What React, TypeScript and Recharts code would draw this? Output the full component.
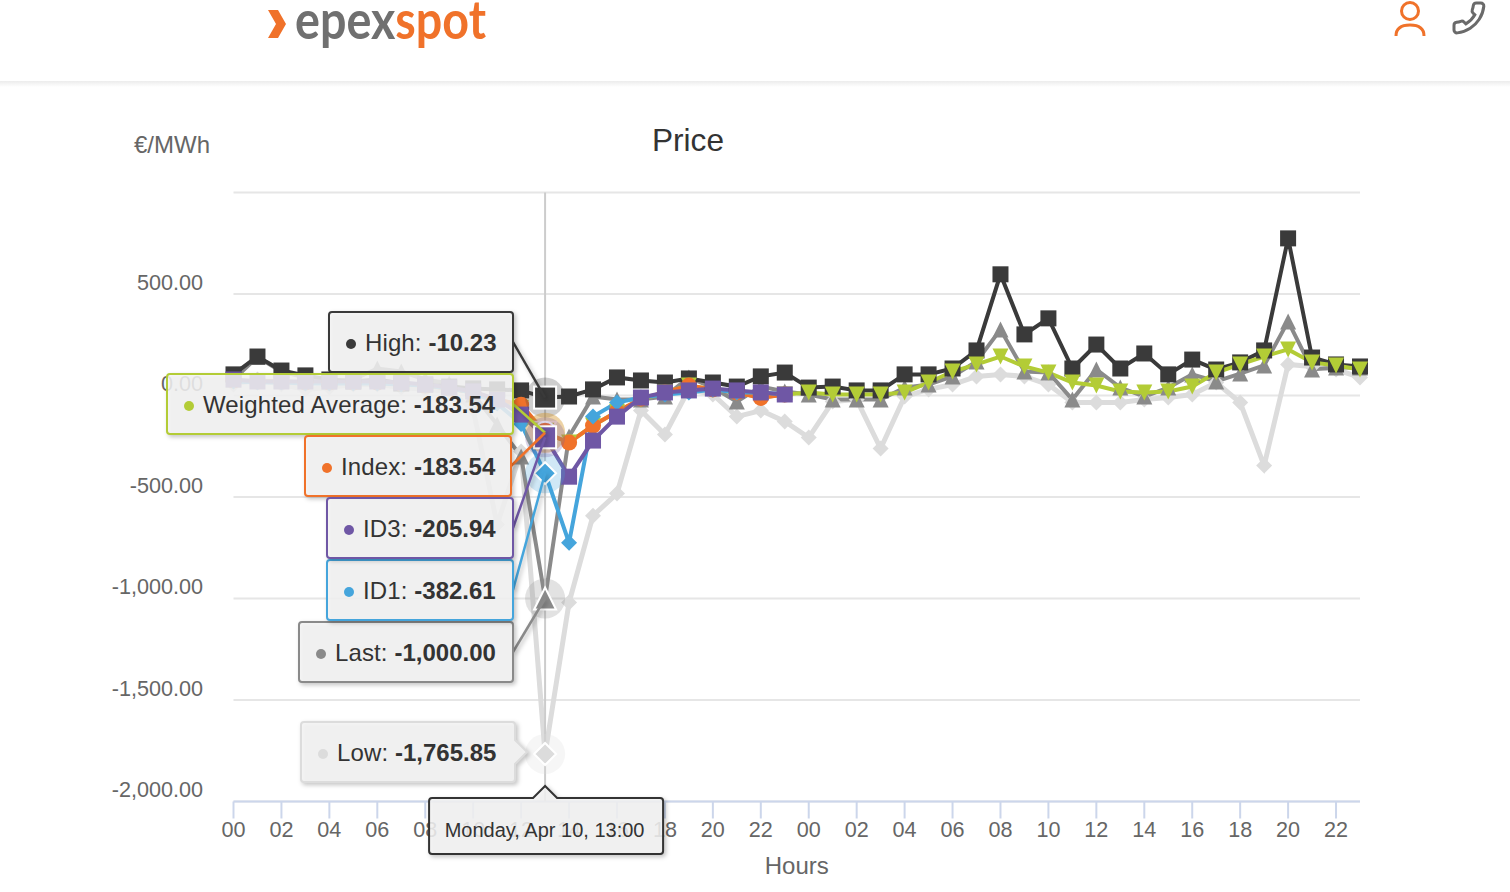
import { CartesianGrid, Label, Line, LineChart, Tooltip, XAxis, YAxis } from 'recharts';

const hours = [
  '00', '01', '02', '03', '04', '05', '06', '07', '08', '09', '10', '11',
  '12', '13', '14', '15', '16', '17', '18', '19', '20', '21', '22', '23',
  '00', '01', '02', '03', '04', '05', '06', '07', '08', '09', '10', '11',
  '12', '13', '14', '15', '16', '17', '18', '19', '20', '21', '22', '23',
];
const yTicks = [-2000, -1500, -1000, -500, 0, 500, 1000];

const lowValues = [
  54, 79, 54, 30, 39, 54, 54, 39, 30, 20, -69, -636, -276, -1765.85, -1020, -592, -483, -74, -192, 30, 5, -104, -74, -128,
  -207, -30, -20, -261, -5, 30, 54, 94, 104, 94, 54, -35, -35, -35, -20, -10, 5, 64, -35, -345, 153, 143, 128, 89,
];
const lastValues = [
  79, 190, 118, 89, 69, 79, 133, 118, 79, 59, 5, -143, -300, -1000, -202, -5, -20, -20, -5, 89, 39, -30, 44, 20,
  5, -20, -20, -20, 39, 54, 94, 168, 325, 118, 113, -20, 128, 39, -5, 39, 104, 69, 108, 148, 365, 128, 138, 138,
];
const highValues = [
  104, 192, 123, 99, 79, 69, 79, 59, 54, 44, 35, 30, 25, -10.23, -5, 30, 89, 74, 64, 84, 64, 44, 94, 113,
  39, 44, 25, 25, 104, 104, 133, 222, 597, 301, 380, 133, 251, 133, 207, 104, 177, 128, 163, 222, 774, 187, 153, 143,
];
const weightedValues = [
  74, 69, 69, 64, 64, 64, 64, 59, 49, 34, 15, -20, -60, -183.54, -232, -148, -80, -20, 15, 49, 30, 15, -10, 5,
  15, 5, 5, 5, 15, 64, 118, 153, 192, 143, 113, 64, 49, 20, 15, 20, 44, 113, 153, 192, 227, 163, 148, 128,
];
const indexValues = [
  74, 69, 69, 64, 64, 64, 64, 59, 49, 34, 15, -20, -45, -183.54, -232, -148, -80, -15, 15, 49, 30, 15, -12, 5,
];
const id1Values = [
  69, 64, 64, 59, 59, 59, 59, 54, 49, 34, 15, -39, -140, -382.61, -725, -104, -35, -10, 5, 15, 30, 15, 15, 5,
];
const id3Values = [
  79, 69, 69, 69, 69, 69, 69, 64, 54, 39, 20, -20, -94, -205.94, -400, -222, -104, -10, 15, 25, 34, 25, 15, 5,
];

const chartData = hours.map((hour, i) => ({
  slot: i,
  low: lowValues[i],
  last: lastValues[i],
  high: highValues[i],
  weighted: weightedValues[i],
  index: indexValues[i] ?? null,
  id1: id1Values[i] ?? null,
  id3: id3Values[i] ?? null,
}));

const FONT = '"Liberation Sans", Arial, sans-serif';
const ORANGE = '#f0722a';
const PLOT_TOP = 192.5;
const PLOT_BOTTOM = 801.5;
const PLOT_LEFT = 233.5;
const PLOT_RIGHT = 1360;
const HOVER_INDEX = 13;

const hoverX = PLOT_LEFT + ((PLOT_RIGHT - PLOT_LEFT) * HOVER_INDEX) / (hours.length - 1);
const toY = (v: number) => PLOT_BOTTOM - ((v + 2000) / 3000) * (PLOT_BOTTOM - PLOT_TOP);

const seriesStyles = [
  { key: 'low', name: 'Low', color: '#dcdcdc', shape: 'diamond', width: 5 },
  { key: 'last', name: 'Last', color: '#8a8a8a', shape: 'triangle', width: 4 },
  { key: 'high', name: 'High', color: '#3a3a3a', shape: 'square', width: 4 },
  { key: 'weighted', name: 'Weighted Average', color: '#b3cc36', shape: 'triangleDown', width: 4 },
  { key: 'index', name: 'Index', color: ORANGE, shape: 'circle', width: 4 },
  { key: 'id1', name: 'ID1', color: '#45a5dc', shape: 'diamond', width: 4 },
  { key: 'id3', name: 'ID3', color: '#6f57a5', shape: 'square', width: 4 },
];

// left edge, top edge and width of each hover label
const labelBoxes: Record<string, { x: number; y: number; w: number }> = {
  high: { x: 329, y: 312, w: 184 },
  weighted: { x: 167, y: 374, w: 346 },
  index: { x: 305, y: 436, w: 206 },
  id3: { x: 327, y: 498, w: 186 },
  id1: { x: 327, y: 560, w: 186 },
  last: { x: 299, y: 622, w: 214 },
  low: { x: 301, y: 722, w: 214 },
};
const LABEL_H = 60;

function marker(shape: string, cx: number, cy: number, size: number, color: string, stroke?: string) {
  const common = { fill: color, stroke: stroke ?? 'none', strokeWidth: stroke ? 2 : 0 };
  if (shape === 'square') return <rect x={cx - size} y={cy - size} width={size * 2} height={size * 2} {...common} />;
  if (shape === 'circle') return <circle cx={cx} cy={cy} r={size} {...common} />;
  if (shape === 'triangle')
    return <polygon points={`${cx},${cy - size} ${cx + size},${cy + size} ${cx - size},${cy + size}`} {...common} />;
  if (shape === 'triangleDown')
    return <polygon points={`${cx},${cy + size} ${cx + size},${cy - size} ${cx - size},${cy - size}`} {...common} />;
  return <polygon points={`${cx},${cy - size} ${cx + size},${cy} ${cx},${cy + size} ${cx - size},${cy}`} {...common} />;
}

const makeDot = (shape: string, color: string) => (props: any) => {
  if (props.value == null || props.cy == null) return <g key={props.index} />;
  return <g key={props.index}>{marker(shape, props.cx, props.cy, 8, color)}</g>;
};

const makeActiveDot = (shape: string, color: string) => (props: any) => {
  if (props.value == null || props.cy == null) return <g key={props.index} />;
  return (
    <g key={props.index}>
      <circle cx={props.cx} cy={props.cy} r={20} fill={color} opacity={0.25} />
      {marker(shape, props.cx, props.cy, 11, color, '#ffffff')}
    </g>
  );
};

const YTick = ({ x, y, payload }: any) => {
  if (payload.value === 1000) return null;
  const text = payload.value.toLocaleString('en-US', { minimumFractionDigits: 2 });
  return (
    <text x={x} y={y - 4.5} textAnchor="end" fontFamily={FONT} fontSize={21.6} fill="#666666">
      {text}
    </text>
  );
};

function HoverLabels({ payload }: any) {
  if (!payload || !payload.length) return null;
  const boxShadow = { filter: 'drop-shadow(2px 2px 2px rgba(0,0,0,0.25))' };
  const dateLeft = hoverX - 116;
  const dateRight = hoverX + 118;
  return (
    <svg width={1510} height={892} style={{ display: 'block', pointerEvents: 'none' }}>
      {seriesStyles.map((s) => {
        const box = labelBoxes[s.key];
        const entry = payload.find((p: any) => p.dataKey === s.key);
        if (!box || !entry) return null;
        const right = box.x + box.w;
        const midY = box.y + LABEL_H / 2;
        const pointY = toY(entry.value);
        const text = entry.value.toLocaleString('en-US', { minimumFractionDigits: 2 });
        const outline =
          s.key === 'low'
            ? `M${box.x + 3} ${box.y} H${right - 3} Q${right} ${box.y} ${right} ${box.y + 3} V${midY - 12} L${right + 12} ${midY} L${right} ${midY + 12} V${box.y + LABEL_H - 3} Q${right} ${box.y + LABEL_H} ${right - 3} ${box.y + LABEL_H} H${box.x + 3} Q${box.x} ${box.y + LABEL_H} ${box.x} ${box.y + LABEL_H - 3} V${box.y + 3} Q${box.x} ${box.y} ${box.x + 3} ${box.y} Z`
            : `M${box.x + 3} ${box.y} H${right - 3} Q${right} ${box.y} ${right} ${box.y + 3} V${box.y + LABEL_H - 3} Q${right} ${box.y + LABEL_H} ${right - 3} ${box.y + LABEL_H} H${box.x + 3} Q${box.x} ${box.y + LABEL_H} ${box.x} ${box.y + LABEL_H - 3} V${box.y + 3} Q${box.x} ${box.y} ${box.x + 3} ${box.y} Z`;
        return (
          <g key={s.key}>
            {s.key !== 'low' && (
              <line x1={right} y1={midY} x2={hoverX} y2={pointY} stroke={s.color} strokeWidth={2.5} style={boxShadow} />
            )}
            <path d={outline} fill="rgba(247,247,247,0.85)" stroke={s.color} strokeWidth={2} style={boxShadow} />
            <circle cx={box.x + 22} cy={midY + 2} r={5} fill={s.color} />
            <text x={box.x + 36} y={midY + 9} fontFamily={FONT} fontSize={24} fill="#333333">
              <tspan letterSpacing={0.12}>{s.name}: </tspan>
              <tspan fontWeight="bold">{text}</tspan>
            </text>
          </g>
        );
      })}
      <path
        d={`M${dateLeft + 3} 798 H${hoverX - 12} L${hoverX} 786 L${hoverX + 12} 798 H${dateRight - 3} Q${dateRight} 798 ${dateRight} 801 V851 Q${dateRight} 854 ${dateRight - 3} 854 H${dateLeft + 3} Q${dateLeft} 854 ${dateLeft} 851 V801 Q${dateLeft} 798 ${dateLeft + 3} 798 Z`}
        fill="rgba(247,247,247,0.85)"
        stroke="#333333"
        strokeWidth={2}
        style={boxShadow}
      />
      <text x={hoverX - 0.5} y={837} textAnchor="middle" fontFamily={FONT} fontSize={20} fill="#333333">
        Monday, Apr 10, 13:00
      </text>
    </svg>
  );
}

function Header() {
  return (
    <svg width={1510} height={90} style={{ position: 'absolute', left: 0, top: 0 }}>
      <defs>
        <linearGradient id="headerShade" x1="0" y1="0" x2="0" y2="1">
          <stop offset="0" stopColor="#ececec" />
          <stop offset="1" stopColor="#ffffff" />
        </linearGradient>
      </defs>
      <rect x={0} y={81} width={1510} height={6} fill="url(#headerShade)" />
      <polygon points="268,10 278,10 286,24 278,38 268,38 276,24" fill={ORANGE} />
      <text x={295} y={39} fontFamily="Lato, sans-serif" fontWeight={700} fontSize={54} fill="#707070" textLength={191} lengthAdjust="spacingAndGlyphs">
        epex<tspan fill={ORANGE}>spot</tspan>
      </text>
      <circle cx={1410} cy={11} r={8.5} fill="none" stroke={ORANGE} strokeWidth={3} />
      <path d="M1396 36 C1396 28 1402 25 1410 25 C1418 25 1424 28 1424 36" fill="none" stroke={ORANGE} strokeWidth={3} />
      <g transform="translate(1487 0) scale(-1.5 1.5)">
        <path
          d="M22 16.92v3a2 2 0 0 1-2.18 2 19.79 19.79 0 0 1-8.63-3.07 19.5 19.5 0 0 1-6-6 19.79 19.79 0 0 1-3.07-8.67A2 2 0 0 1 4.11 2h3a2 2 0 0 1 2 1.72 12.84 12.84 0 0 0 .7 2.81 2 2 0 0 1-.45 2.11L8.09 9.91a16 16 0 0 0 6 6l1.27-1.27a2 2 0 0 1 2.11-.45 12.84 12.84 0 0 0 2.81.7A2 2 0 0 1 22 16.92z"
          fill="none"
          stroke="#6a6a6a"
          strokeWidth={2}
        />
      </g>
    </svg>
  );
}

export default function App() {
  return (
    <div style={{ position: 'absolute', left: 0, top: 0, width: 1510, height: 892, background: '#fff', overflow: 'hidden', fontFamily: FONT }}>
      <Header />
      <div style={{ position: 'absolute', left: 134, top: 131, fontSize: 24, color: '#666666' }}>€/MWh</div>
      <div style={{ position: 'absolute', left: 652, top: 122, fontSize: 31.6, color: '#333333' }}>Price</div>
      <div style={{ position: 'absolute', left: 0, top: 0 }}>
        <LineChart
          width={1510}
          height={892}
          data={chartData}
          margin={{ top: PLOT_TOP, right: 1510 - PLOT_RIGHT, bottom: 0, left: 0 }}
        >
          <CartesianGrid horizontal vertical={false} stroke="#e6e6e6" strokeWidth={2} />
          <XAxis
            dataKey="slot"
            interval={1}
            height={892 - PLOT_BOTTOM}
            tickFormatter={(slot: number) => hours[slot]}
            axisLine={{ stroke: '#ccd6eb', strokeWidth: 2 }}
            tickLine={{ stroke: '#ccd6eb', strokeWidth: 2 }}
            tickSize={17}
            tickMargin={3}
            tick={{ fill: '#666666', fontSize: 21.6, fontFamily: FONT }}
          >
            <Label value="Hours" position="insideBottom" offset={18} fill="#666666" fontSize={24} fontFamily={FONT} />
          </XAxis>
          <YAxis
            width={PLOT_LEFT}
            domain={[-2000, 1000]}
            ticks={yTicks}
            axisLine={false}
            tickLine={false}
            tickSize={0}
            tickMargin={30.5}
            tick={<YTick />}
          />
          {seriesStyles.map((s) => (
            <Line
              key={s.key}
              dataKey={s.key}
              name={s.name}
              type="linear"
              stroke={s.color}
              strokeWidth={s.width}
              dot={makeDot(s.shape, s.color)}
              activeDot={makeActiveDot(s.shape, s.color)}
              isAnimationActive={false}
            />
          ))}
          <Tooltip
            active
            defaultIndex={HOVER_INDEX}
            position={{ x: 0, y: 0 }}
            isAnimationActive={false}
            allowEscapeViewBox={{ x: true, y: true }}
            cursor={{ stroke: '#cccccc', strokeWidth: 2 }}
            content={<HoverLabels />}
          />
        </LineChart>
      </div>
    </div>
  );
}
